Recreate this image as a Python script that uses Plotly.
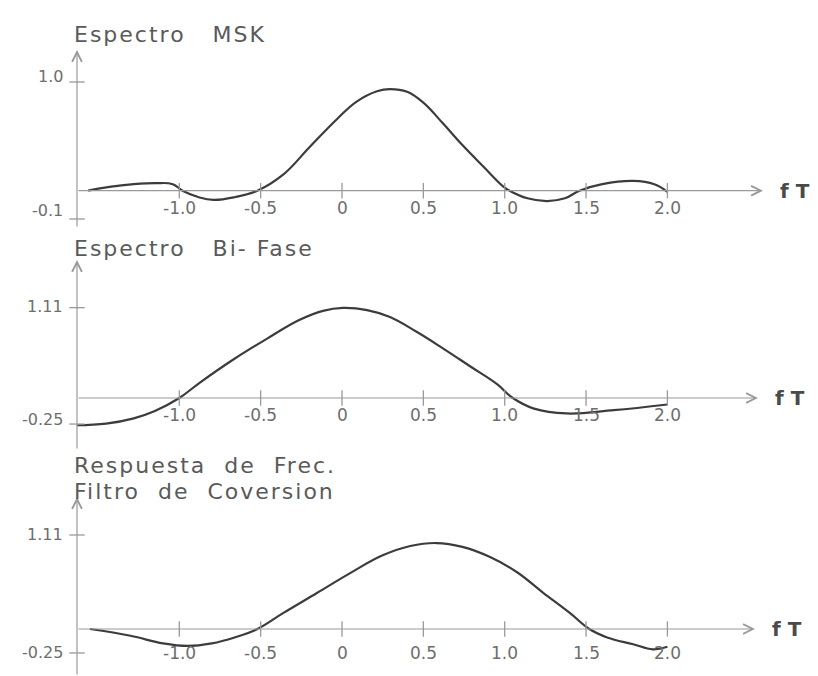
import plotly.graph_objects as go

W, H = 818, 676

# ---------------- data ----------------
ft_ticks = [-1.0, -0.5, 0.0, 0.5, 1.0, 1.5, 2.0]
ft_tick_labels = ["-1.0", "-0.5", "0", "0.5", "1.0", "1.5", "2.0"]

titles = ["Espectro\u00a0\u00a0\u00a0MSK",
          "Espectro\u00a0\u00a0\u00a0Bi-\u00a0Fase",
          "Respuesta\u00a0\u00a0de\u00a0\u00a0Frec.",
          "Filtro\u00a0\u00a0de\u00a0\u00a0Coversion"]

# Espectro MSK
msk_f = [-1.56, -1.43, -1.28, -1.14, -1.04, -0.98, -0.88, -0.79, -0.66, -0.52, -0.36,
         -0.20, -0.03, 0.09, 0.215, 0.295, 0.40, 0.50, 0.62, 0.74, 0.87, 0.99, 1.03,
         1.14, 1.26, 1.37, 1.46, 1.60, 1.79, 1.92, 2.0]
msk_y = [0.0, 0.035, 0.06, 0.07, 0.06, 0.0, -0.06, -0.085, -0.06, 0.0, 0.15,
         0.40, 0.66, 0.82, 0.915, 0.935, 0.91, 0.81, 0.62, 0.42, 0.22, 0.04, 0.0,
         -0.07, -0.095, -0.07, 0.0, 0.06, 0.09, 0.06, -0.01]
msk_ylabels = ["1.0", "-0.1"]

# Espectro Bi-Fase
bif_f = [-1.63, -1.45, -1.28, -1.15, -1.0, -0.873, -0.67, -0.46, -0.26, -0.117, 0.006,
         0.154, 0.295, 0.461, 0.62, 0.787, 0.953, 1.05, 1.18, 1.38, 1.67, 2.0]
bif_y = [-0.335, -0.315, -0.25, -0.16, 0.0, 0.19, 0.47, 0.73, 0.96, 1.07, 1.106,
         1.08, 0.995, 0.81, 0.61, 0.39, 0.17, 0.0, -0.13, -0.19, -0.15, -0.08]
bif_ylabels = ["1.11", "-0.25"]

# Respuesta de Frec. Filtro de Conversion
fil_f = [-1.55, -1.30, -1.10, -0.95, -0.80, -0.66, -0.52, -0.36, -0.154, 0.05, 0.25,
         0.42, 0.58, 0.74, 0.91, 1.076, 1.235, 1.40, 1.52, 1.63, 1.79, 1.91, 2.0]
fil_y = [0.0, -0.08, -0.17, -0.20, -0.17, -0.10, 0.0, 0.19, 0.425, 0.66, 0.87,
         0.98, 1.015, 0.97, 0.85, 0.67, 0.43, 0.19, 0.0, -0.10, -0.18, -0.24, -0.21]
fil_ylabels = ["1.11", "-0.25"]

# ---------------- layout geometry (pixels) ----------------
X0_PX, X_SCALE = 342.0, 162.7          # pixel of fT=0, pixels per unit fT
YAX_F = (77 - X0_PX) / X_SCALE         # position of drawn y axis
panels = [
    dict(top=0, bottom=232, zero=190.7, scale=108.7, ytop=50, ybot=228, head=763,
         ytickpos=[1.0, -0.26], ylabpos=[1.05, -0.18], lab_shift=-17,
         f=msk_f, y=msk_y, ylabels=msk_ylabels),
    dict(top=232, bottom=455, zero=398.0, scale=81.4, ytop=260, ybot=450, head=758,
         ytickpos=[1.11, -0.32], ylabpos=[1.13, -0.27], lab_shift=-17,
         f=bif_f, y=bif_y, ylabels=bif_ylabels),
    dict(top=455, bottom=676, zero=629.0, scale=84.7, ytop=497, ybot=676, head=755,
         ytickpos=[1.11, -0.283], ylabpos=[1.12, -0.283], lab_shift=-24,
         f=fil_f, y=fil_y, ylabels=fil_ylabels),
]

AX_COLOR = "#9a9a9a"
CURVE_COLOR = "#3c3c3c"
TEXT_COLOR = "#6e6e6e"
TITLE_COLOR = "#5a5a5a"
FONT = "DejaVu Sans"
TRACK_PX = 2  # letter spacing applied to the titles

fig = go.Figure()
annotations = []
layout_axes = {}

for i, p in enumerate(panels, start=1):
    sfx = "" if i == 1 else str(i)
    xref, yref = "x" + sfx, "y" + sfx
    to_val = lambda px, p=p: (p["zero"] - px) / p["scale"]

    layout_axes["xaxis" + sfx] = dict(
        domain=[0, 1], range=[(0 - X0_PX) / X_SCALE, (W - X0_PX) / X_SCALE],
        visible=False, anchor=yref, fixedrange=True)
    layout_axes["yaxis" + sfx] = dict(
        domain=[1 - p["bottom"] / H, 1 - p["top"] / H],
        range=[to_val(p["bottom"]), to_val(p["top"])],
        visible=False, anchor=xref, fixedrange=True)

    # curve
    fig.add_trace(go.Scatter(x=p["f"], y=p["y"], mode="lines",
                             line=dict(color=CURVE_COLOR, width=2.2, shape="spline", smoothing=1.15),
                             xaxis=xref, yaxis=yref, showlegend=False, hoverinfo="skip"))
    # x tick marks
    fig.add_trace(go.Scatter(x=ft_ticks, y=[0] * len(ft_ticks), mode="markers",
                             marker=dict(symbol="line-ns", size=11,
                                         line=dict(color=AX_COLOR, width=1.3)),
                             xaxis=xref, yaxis=yref, showlegend=False, hoverinfo="skip",
                             cliponaxis=False))
    # y tick marks
    fig.add_trace(go.Scatter(x=[YAX_F] * len(p["ytickpos"]), y=p["ytickpos"], mode="markers",
                             marker=dict(symbol="line-ew", size=11,
                                         line=dict(color=AX_COLOR, width=1.3)),
                             xaxis=xref, yaxis=yref, showlegend=False, hoverinfo="skip",
                             cliponaxis=False))

    # axes drawn as arrows
    head_f = (p["head"] - X0_PX) / X_SCALE
    annotations.append(dict(x=head_f, y=0, ax=YAX_F, ay=0, xref=xref, yref=yref,
                            axref=xref, ayref=yref, text="", showarrow=True,
                            arrowhead=5, arrowsize=1.6, arrowwidth=1.2, arrowcolor=AX_COLOR,
                            standoff=0, startstandoff=0))
    annotations.append(dict(x=YAX_F, y=to_val(p["ytop"]), ax=YAX_F, ay=to_val(p["ybot"]),
                            xref=xref, yref=yref, axref=xref, ayref=yref, text="",
                            showarrow=True, arrowhead=5, arrowsize=1.6, arrowwidth=1.2,
                            arrowcolor=AX_COLOR, standoff=0, startstandoff=0))
    # fT label
    annotations.append(dict(x=head_f, y=0, xref=xref, yref=yref, text="<b>f T</b>",
                            showarrow=False, xanchor="left", yanchor="middle", xshift=15,
                            font=dict(family=FONT, size=20, color="#4a4a4a")))
    # x tick labels
    for t, lab in zip(ft_ticks, ft_tick_labels):
        annotations.append(dict(x=t, y=0, xref=xref, yref=yref, text=lab, showarrow=False,
                                xanchor="center", yanchor="middle", yshift=p["lab_shift"],
                                font=dict(family=FONT, size=17, color=TEXT_COLOR)))
    # y tick labels
    for v, lab in zip(p["ylabpos"], p["ylabels"]):
        annotations.append(dict(x=YAX_F, y=v, xref=xref, yref=yref, text=lab, showarrow=False,
                                xanchor="right", yanchor="middle", xshift=-12,
                                font=dict(family=FONT, size=16, color=TEXT_COLOR)))

# titles (text is centre-anchored by plotly, so compensate the extra tracking)
title_centers = [34, 248, 465, 491]
for t, cy in zip(titles, title_centers):
    annotations.append(dict(x=72 / W, y=1 - cy / H, xref="paper", yref="paper", text=t,
                            showarrow=False, xanchor="left", yanchor="middle",
                            xshift=TRACK_PX * len(t) / 2,
                            font=dict(family=FONT, size=22, color=TITLE_COLOR)))

fig.update_layout(width=W, height=H, margin=dict(l=0, r=0, t=0, b=0),
                  paper_bgcolor="white", plot_bgcolor="white",
                  annotations=annotations, **layout_axes)

post = """
document.body.style.margin='0px';document.body.style.padding='0px';
(function(){
  function track(){
    document.querySelectorAll('text.annotation-text').forEach(function(t){
      if(/Espectro|Respuesta|Filtro/.test(t.textContent)){ t.style.letterSpacing='%dpx'; }
    });
  }
  track();
  var gd=document.getElementById('{plot_id}');
  if(gd && gd.on){ gd.on('plotly_afterplot', track); }
  setTimeout(track, 50);
})();
""" % TRACK_PX
fig.write_html("out.html", config={"displayModeBar": False}, post_script=post)
